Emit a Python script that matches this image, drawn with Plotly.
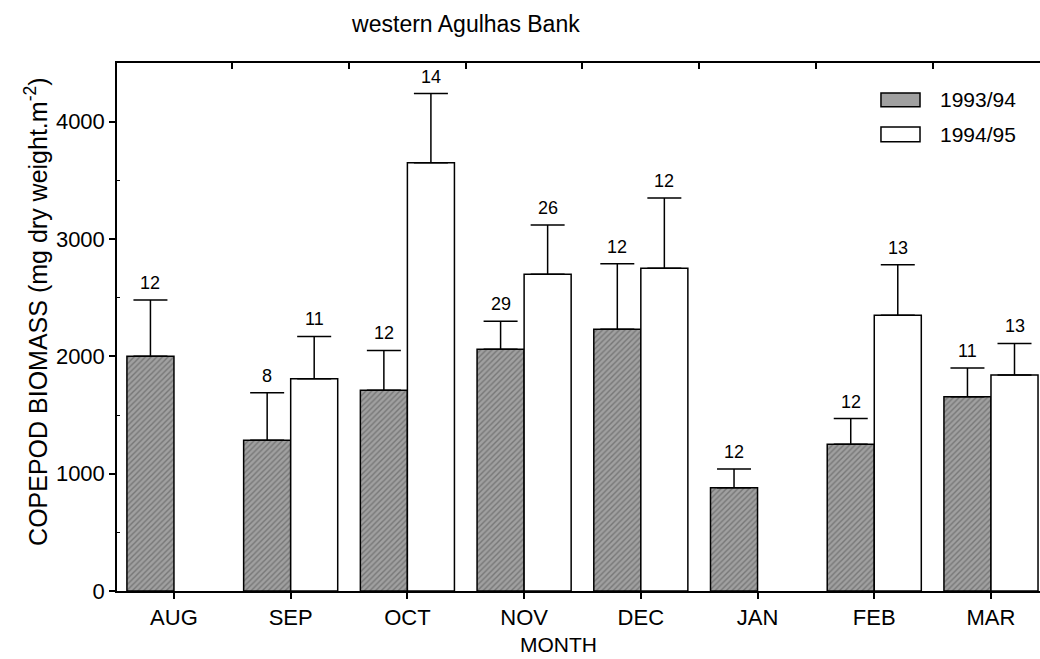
import plotly.graph_objects as go

months = ["AUG", "SEP", "OCT", "NOV", "DEC", "JAN", "FEB", "MAR"]
mean_9394 = [2000, 1285, 1710, 2060, 2230, 880, 1250, 1655]
se_9394 = [480, 405, 340, 240, 560, 160, 220, 245]
n_9394 = [12, 8, 12, 29, 12, 12, 12, 11]
mean_9495 = [None, 1810, 3650, 2700, 2750, None, 2350, 1840]
se_9495 = [None, 360, 590, 420, 600, None, 430, 270]
n_9495 = [None, 11, 14, 26, 12, None, 13, 13]
series_names = ["1993/94", "1994/95"]

FONT = "Liberation Sans, Arial, Helvetica, sans-serif"
idx = list(range(len(months)))
BARGAP = 0.194
half_off = (1 - BARGAP) / 4
GRAY = "#a0a0a0"

fig = go.Figure()
fig.add_trace(go.Bar(
    x=idx, y=mean_9394, name=series_names[0], showlegend=False,
    marker=dict(color=GRAY, line=dict(color="black", width=1.5),
                pattern=dict(shape="/", fgcolor="#4d4d4d", size=4, solidity=0.35)),
    error_y=dict(type="data", symmetric=False, array=se_9394,
                 arrayminus=[0] * len(months), color="black", thickness=1.5, width=17),
))
fig.add_trace(go.Bar(
    x=idx, y=mean_9495, name=series_names[1], showlegend=False,
    marker=dict(color="white", line=dict(color="black", width=1.5)),
    error_y=dict(type="data", symmetric=False,
                 array=[s if s is not None else 0 for s in se_9495],
                 arrayminus=[0] * len(months), color="black", thickness=1.5, width=17),
))
# helper trace so the top axis is drawn
fig.add_trace(go.Scatter(x=idx, y=[None] * len(idx), xaxis="x2", mode="markers",
                         showlegend=False, hoverinfo="skip"))

annotations = []
for i in idx:
    if mean_9394[i] is not None:
        annotations.append(dict(x=i - half_off, y=mean_9394[i] + se_9394[i], xref="x", yref="y",
                                text=str(n_9394[i]), showarrow=False, yanchor="bottom", yshift=5,
                                font=dict(size=18, color="black", family=FONT)))
    if mean_9495[i] is not None:
        annotations.append(dict(x=i + half_off, y=mean_9495[i] + se_9495[i], xref="x", yref="y",
                                text=str(n_9495[i]), showarrow=False, yanchor="bottom", yshift=5,
                                font=dict(size=18, color="black", family=FONT)))

# axis titles
annotations.append(dict(text="MONTH", x=0.478, y=-0.101, xref="paper", yref="paper",
                        xanchor="center", yanchor="middle", showarrow=False,
                        font=dict(size=21, family=FONT, color="black")))
annotations.append(dict(text="COPEPOD BIOMASS (mg dry weight.m<sup>-2</sup>)", textangle=-90,
                        x=-0.087, y=0.528, xref="paper", yref="paper",
                        xanchor="center", yanchor="middle", showarrow=False,
                        font=dict(size=25, family=FONT, color="black")))

# legend (drawn manually to match the wide swatches)
legend_rows = [(0.943, 0.917, GRAY), (0.879, 0.851, "white")]
shapes = []
for (ytop, ybot, col), name in zip(legend_rows, series_names):
    shapes.append(dict(type="rect", xref="paper", yref="paper", x0=0.8277, x1=0.870,
                       y0=ybot, y1=ytop, fillcolor=col, line=dict(color="black", width=1.5)))
    annotations.append(dict(text=name, x=0.8895, y=(ytop + ybot) / 2, xref="paper", yref="paper",
                            xanchor="left", yanchor="middle", showarrow=False,
                            font=dict(size=21, family=FONT, color="black")))

xr = [-0.488, 7.42]
fig.update_layout(
    width=1040, height=659,
    margin=dict(l=117, r=0, t=63, b=68),
    paper_bgcolor="white", plot_bgcolor="white",
    barmode="group", bargap=BARGAP, bargroupgap=0,
    font=dict(family=FONT, size=20, color="black"),
    title=dict(text="western Agulhas Bank", x=0.448, xanchor="center", y=0.963, yanchor="middle",
               font=dict(size=23, family=FONT, color="black")),
    xaxis=dict(range=xr, tickmode="array", tickvals=idx, ticktext=months,
               ticks="outside", ticklen=6, tickwidth=1.5, tickcolor="black",
               showline=True, linewidth=1.5, linecolor="black", showgrid=False, zeroline=False,
               tickfont=dict(size=22)),
    xaxis2=dict(range=xr, overlaying="x", side="top", tickmode="array",
                tickvals=[i + 0.5 for i in idx[:-1]], ticks="inside", ticklen=6, tickwidth=1.5,
                tickcolor="black", showline=True, linewidth=1.5, linecolor="black",
                showticklabels=False, showgrid=False, zeroline=False),
    yaxis=dict(range=[0, 4500], tickmode="array", tickvals=[0, 1000, 2000, 3000, 4000],
               ticks="outside", ticklen=6, tickwidth=1.5, tickcolor="black",
               minor=dict(tickmode="array", tickvals=[500, 1500, 2500, 3500], ticks="inside",
                          ticklen=3, tickwidth=1, tickcolor="black", showgrid=False),
               showline=True, linewidth=1.5, linecolor="black", showgrid=False, zeroline=False,
               tickfont=dict(size=22)),
    annotations=annotations,
    shapes=shapes,
    showlegend=False,
)

fig.write_html("out.html")
